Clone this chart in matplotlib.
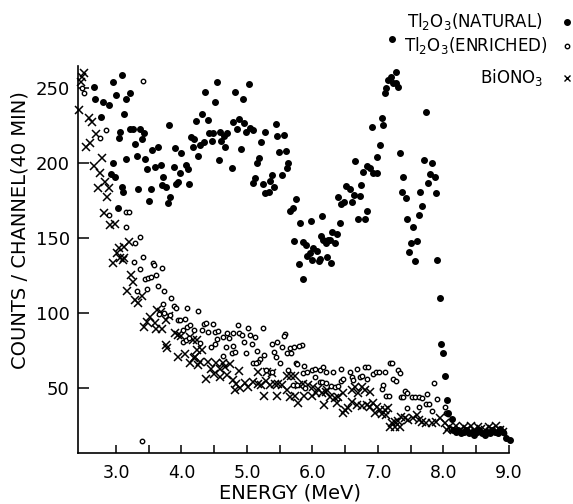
import matplotlib
matplotlib.use("Agg")
import matplotlib.pyplot as plt
from matplotlib.lines import Line2D

plt.rcParams['font.family'] = ['DejaVu Sans']
plt.rcParams['mathtext.default'] = 'regular'

# ---- Tl2O3 (natural) : filled dots ----
nat_e = [2.66, 2.68, 2.77, 2.80, 2.90, 2.93, 2.95, 2.96, 2.99, 3.00, 3.03, 3.04, 3.06, 3.09, 3.09,
         3.11, 3.13, 3.15, 3.16, 3.21, 3.22, 3.26, 3.29, 3.32, 3.34, 3.37, 3.39, 3.43, 3.44, 3.47,
         3.50, 3.53, 3.55, 3.59, 3.64, 3.68, 3.70, 3.72, 3.77, 3.80, 3.81, 3.82, 3.88, 3.90, 3.92,
         3.95, 3.98, 4.00, 4.07, 4.10, 4.12, 4.14, 4.17, 4.19, 4.22, 4.26, 4.29, 4.31, 4.34, 4.36,
         4.40, 4.42, 4.46, 4.48, 4.51, 4.55, 4.57, 4.59, 4.61, 4.65, 4.67, 4.70, 4.77, 4.79, 4.82,
         4.85, 4.88, 4.91, 4.94, 4.96, 4.98, 5.03, 5.05, 5.09, 5.10, 5.13, 5.15, 5.19, 5.21, 5.24,
         5.27, 5.27, 5.34, 5.35, 5.38, 5.41, 5.44, 5.46, 5.49, 5.53, 5.56, 5.59, 5.61, 5.63, 5.66,
         5.71, 5.72, 5.75, 5.79, 5.81, 5.85, 5.86, 5.90, 5.92, 5.96, 5.98, 6.00, 6.01, 6.07, 6.10,
         6.11, 6.13, 6.15, 6.16, 6.21, 6.23, 6.24, 6.27, 6.29, 6.30, 6.34, 6.37, 6.39, 6.42, 6.44,
         6.48, 6.51, 6.58, 6.60, 6.63, 6.65, 6.69, 6.72, 6.74, 6.78, 6.81, 6.83, 6.84, 6.88, 6.91,
         6.93, 6.99, 6.99, 7.03, 7.06, 7.08, 7.11, 7.13, 7.15, 7.20, 7.22, 7.23, 7.27, 7.28, 7.31,
         7.34, 7.37, 7.39, 7.43, 7.45, 7.48, 7.51, 7.54, 7.56, 7.60, 7.62, 7.64, 7.68, 7.70, 7.74,
         7.77, 7.79, 7.82, 7.87, 7.89, 7.91, 7.95, 7.96, 8.00, 8.02, 8.05, 8.07, 8.13,
         8.15, 8.19, 8.23, 8.27, 8.31, 8.35, 8.39, 8.43, 8.47, 8.51, 8.55, 8.59, 8.63, 8.67, 8.71,
         8.75, 8.79, 8.83, 8.87, 8.91, 8.96, 9.02]
nat_c = [250.9, 242.7, 230.5, 241.0, 238.9, 193.0, 253.8, 200.0, 191.0, 245.6, 170.0, 216.7, 221.0, 258.7, 184.2,
         181.0, 233.0, 242.7, 202.5, 246.4, 222.5, 222.5, 212.7, 205.0, 183.0, 222.5, 215.8, 219.8, 203.0, 195.8,
         174.7, 183.0, 209.0, 197.6, 211.0, 198.4, 185.3, 191.0, 184.2, 173.5, 225.5, 177.5, 197.6, 210.0, 186.0,
         187.3, 193.6, 206.5, 199.0, 196.2, 186.0, 217.5, 210.5, 216.0, 228.0, 204.7, 211.8, 232.4, 214.2, 247.3,
         228.9, 220.2, 214.9, 220.2, 240.4, 253.8, 202.0, 221.0, 214.9, 218.0, 210.5, 220.2, 196.5, 227.5, 247.1,
         222.9, 229.3, 209.1, 242.7, 226.4, 221.0, 253.0, 223.3, 186.9, 222.2, 189.8, 200.2, 203.3, 214.2, 185.8,
         221.0, 180.2, 180.7, 188.0, 192.0, 183.8, 226.0, 217.8, 207.3, 191.8, 218.4, 207.8, 196.9, 199.8, 168.0,
         170.2, 148.0, 175.8, 133.0, 160.2, 122.7, 147.3, 145.1, 138.0, 140.2, 161.3, 135.3, 143.1, 141.5, 134.4,
         135.8, 151.5, 164.7, 149.0, 146.9, 137.1, 148.5, 148.7, 133.5, 154.0, 146.4, 152.9, 177.3, 159.8, 172.7,
         173.8, 184.5, 182.7, 174.0, 178.9, 201.3, 162.9, 178.2, 185.1, 193.8, 162.5, 197.8, 168.2, 196.5, 224.0,
         193.6, 193.6, 204.2, 211.8, 229.8, 225.3, 246.5, 249.8, 255.3, 257.1, 282.7, 253.1, 260.5, 253.1, 250.5,
         206.9, 180.7, 190.7, 176.7, 162.7, 140.4, 146.9, 157.1, 134.7, 148.2, 165.5, 180.5, 171.1, 202.2, 234.0,
         186.7, 192.9, 200.2, 190.7, 179.8, 135.3, 109.8, 79.1, 73.1, 58.0, 42.0, 33.5, 29.3,
         22, 21, 22, 20, 21, 22, 20, 21, 19, 21, 22, 20, 19, 21, 20,
         22, 21, 20, 23, 21, 16.5, 15.3]

# ---- Tl2O3 (enriched) : small open circles ----
enr_e = [2.48, 2.51, 2.75, 2.85, 2.90, 3.16, 3.20, 3.16, 3.29, 3.37, 3.41, 3.41, 3.27, 3.56, 3.58,
         3.36, 3.70, 3.45, 3.49, 3.53, 3.61, 3.64, 3.32, 3.47, 3.74, 3.84, 3.72, 3.89, 3.92, 4.09,
         4.25, 3.66, 3.74, 3.82, 3.94, 3.98, 4.05, 4.08, 4.19, 4.03, 4.02, 4.07, 4.12, 4.13, 4.34,
         4.38, 4.48, 4.31, 4.41, 4.51, 4.56, 4.86, 5.02, 5.25, 4.64, 4.70, 4.73, 4.78, 4.88, 4.92,
         5.05, 5.12, 5.58, 4.55, 4.28, 4.95, 5.07, 5.38, 5.46, 5.84, 4.45, 4.51, 4.68, 4.78, 5.54,
         4.77, 4.82, 4.98, 5.15, 5.41, 5.61, 5.67, 5.26, 4.63, 5.20, 5.17, 5.44, 5.10, 5.14, 5.50,
         5.75, 5.77, 5.87, 5.29, 5.38, 5.63, 5.86, 5.91, 5.99, 6.04, 6.11, 6.16, 6.21, 6.04, 6.11,
         5.71, 5.76, 5.89, 5.65, 5.72, 5.80, 5.56, 6.32, 6.44, 6.57, 6.68, 6.80, 6.85, 6.93, 6.97,
         7.02, 7.11, 7.19, 7.22, 7.31, 7.34, 6.14, 6.21, 6.29, 6.34, 6.39, 6.43, 6.47, 6.60, 6.62,
         6.73, 6.75, 6.83, 7.06, 7.08, 7.12, 7.17, 7.23, 7.28, 7.36, 7.39, 7.41, 7.45, 7.52, 7.56,
         7.62, 7.67, 7.75, 7.73, 7.78, 7.85, 7.90, 7.45, 7.62, 7.82, 8.02, 8.04, 8.07,
         8.12, 8.20, 8.28, 8.36, 8.44, 8.52, 8.60, 8.68, 8.76, 8.84, 8.92, 3.39]
enr_c = [250.0, 247.0, 216.4, 222.0, 165.3, 167.5, 167.5, 157.5, 146.9, 150.9, 255.0, 137.6, 133.8, 133.6, 132.2,
         129.1, 129.8, 122.9, 123.1, 124.2, 125.1, 118.0, 114.9, 115.8, 114.4, 110.2, 106.0, 104.7, 103.1, 103.1,
         101.6, 99.5, 100.2, 98.5, 95.3, 95.3, 95.8, 90.9, 88.7, 88.7, 80.9, 82.0, 83.1, 92.2, 92.4,
         93.1, 92.4, 88.9, 87.1, 87.6, 88.2, 91.8, 90.2, 89.8, 84.2, 86.5, 83.6, 86.9, 86.5, 85.3,
         85.3, 84.2, 86.0, 82.4, 80.2, 80.5, 79.3, 79.3, 80.5, 78.7, 77.6, 79.3, 77.1, 78.0, 77.6,
         73.6, 74.0, 73.6, 74.5, 74.2, 73.6, 73.1, 72.0, 71.3, 69.1, 67.5, 70.9, 66.5, 66.5, 66.9,
         66.9, 66.0, 64.9, 62.0, 60.9, 62.0, 59.8, 60.5, 62.0, 62.7, 62.0, 64.2, 60.9, 57.5, 54.2,
         52.0, 52.0, 49.8, 77.0, 77.5, 78.0, 85.0, 60.9, 62.7, 60.5, 62.7, 63.8, 63.8, 59.1, 60.5,
         60.5, 60.5, 66.9, 66.9, 62.0, 60.2, 54.2, 53.1, 51.3, 50.5, 51.3, 54.9, 55.8, 57.1, 55.3,
         57.1, 58.0, 55.8, 49.1, 52.0, 44.7, 44.7, 55.8, 54.9, 44.2, 43.8, 48.2, 46.4, 44.2, 44.2,
         44.2, 43.1, 45.8, 39.3, 39.3, 53.6, 42.4, 36.5, 37.1, 34.9, 37.1, 33.1, 32.7,
         23, 22, 21, 22, 20, 21, 20, 21, 22, 21, 20, 14.9]

# ---- BiONO3 : crosses ----
bio_e = [2.44, 2.48, 2.51, 2.47, 2.54, 2.59, 2.61, 2.64, 2.66, 2.70, 2.73, 2.76, 2.78, 2.81, 2.83,
         2.86, 2.90, 2.91, 2.95, 2.98, 3.01, 3.04, 3.06, 3.11, 3.12, 3.13, 3.17, 3.20, 3.23, 3.26,
         3.29, 3.34, 3.39, 3.43, 3.47, 3.52, 3.60, 3.61, 3.62, 3.68, 3.70, 3.77, 3.77, 3.78, 3.81,
         3.90, 3.95, 3.95, 4.00, 4.05, 4.13, 4.13, 4.18, 4.19, 4.21, 4.23, 4.24, 4.26, 4.28, 4.32,
         4.37, 4.41, 4.45, 4.49, 4.53, 4.59, 4.59, 4.64, 4.66, 4.69, 4.74, 4.79, 4.82, 4.84, 4.88,
         4.89, 4.97, 5.02, 5.10, 5.17, 5.17, 5.22, 5.26, 5.29, 5.30, 5.35, 5.38, 5.43, 5.46, 5.48,
         5.53, 5.61, 5.61, 5.65, 5.68, 5.73, 5.73, 5.78, 5.80, 5.86, 5.87, 5.94, 6.00, 6.01, 6.06,
         6.09, 6.14, 6.18, 6.21, 6.22, 6.27, 6.34, 6.37, 6.39, 6.47, 6.47, 6.50, 6.55, 6.60, 6.60,
         6.65, 6.68, 6.70, 6.75, 6.75, 6.80, 6.83, 6.88, 6.88, 6.93, 6.95, 6.99, 7.03, 7.06, 7.11,
         7.13, 7.16, 7.18, 7.21, 7.26, 7.26, 7.31, 7.34, 7.36, 7.41, 7.46, 7.54, 7.59, 7.62, 7.67,
         7.74, 7.82, 7.89, 7.95, 8.02, 8.05,
         8.09, 8.14, 8.20, 8.25, 8.31, 8.36, 8.42, 8.47, 8.53, 8.58, 8.64, 8.69, 8.75, 8.80, 8.86, 8.91]
bio_c = [235.3, 257.1, 260.2, 254.0, 210.5, 229.8, 213.1, 227.5, 198.0, 219.3, 183.1, 193.1, 203.3, 166.4, 187.3,
         177.1, 183.1, 158.7, 133.5, 159.1, 139.8, 143.1, 136.5, 135.3, 136.5, 144.2, 114.9, 147.5, 125.3, 120.9,
         108.7, 106.5, 111.3, 90.9, 94.2, 97.1, 93.6, 89.6, 102.0, 100.9, 89.1, 95.3, 78.7, 76.4, 98.0,
         86.9, 85.3, 70.9, 84.7, 72.7, 83.8, 66.9, 82.0, 69.8, 70.4, 75.3, 82.0, 65.3, 67.5, 75.3,
         55.8, 67.5, 62.5, 59.3, 66.9, 62.5, 57.1, 66.9, 63.8, 58.7, 66.0, 55.3, 48.7, 52.7, 61.6,
         49.8, 53.1, 50.9, 54.2, 52.7, 60.9, 52.0, 44.7, 54.9, 60.9, 52.0, 60.2, 52.7, 44.7, 52.7,
         52.0, 58.0, 48.7, 43.8, 58.0, 58.0, 44.7, 39.8, 52.0, 52.7, 44.7, 52.0, 44.7, 50.9, 46.9,
         49.1, 46.4, 38.7, 47.5, 48.7, 44.2, 43.1, 39.8, 44.2, 46.4, 33.1, 35.3, 36.5, 48.7, 40.9,
         50.9, 38.7, 46.4, 50.5, 38.0, 48.7, 38.7, 47.5, 37.6, 39.8, 33.1, 37.1, 35.3, 32.7, 35.3,
         32.0, 36.5, 24.2, 26.4, 27.5, 24.2, 28.2, 23.8, 30.9, 29.8, 28.7, 29.8, 32.0, 28.7, 27.5,
         26.9, 26.4, 27.5, 29.8, 26.9, 22.0,
         24, 23, 25, 22, 24, 23, 25, 22, 24, 23, 22, 24, 23, 25, 22, 21]

x_ticks = [3.0, 4.0, 5.0, 6.0, 7.0, 8.0, 9.0]
x_tick_labels = ['3.0', '4.0', '5.0', '6.0', '7.0', '8.0', '9.0']
x_minor = [3.5, 4.5, 5.5, 6.5, 7.5, 8.5]
y_ticks = [50, 100, 150, 200, 250]
legend_labels = ['Tl$_2$O$_3$(NATURAL)', 'Tl$_2$O$_3$(ENRICHED)', 'BiONO$_3$']

fig = plt.figure(figsize=(5.73, 5.04), dpi=100)
ax = fig.add_axes([78/573, 51/504, 442/573, 423/504])

ax.plot(bio_e, bio_c, linestyle='none', marker='x', color='black', markersize=5.8, markeredgewidth=1.1, clip_on=False)
ax.plot(enr_e, enr_c, linestyle='none', marker='o', markerfacecolor='white', markeredgecolor='black',
        markersize=3.2, markeredgewidth=1.0, clip_on=False)
ax.plot(nat_e, nat_c, linestyle='none', marker='o', color='black', markersize=4.0, clip_on=False)

ax.set_xlim(2.42, 9.17)
ax.set_ylim(6.7, 288.7)
for s in ['top', 'right']:
    ax.spines[s].set_visible(False)
ax.spines['left'].set_bounds(6.7, 265)
ax.spines['bottom'].set_bounds(2.42, 9.0)
for s in ['left', 'bottom']:
    ax.spines[s].set_linewidth(1.2)

ax.set_xticks(x_ticks)
ax.set_xticklabels(x_tick_labels, fontsize=12.5)
ax.set_xticks(x_minor, minor=True)
ax.set_yticks(y_ticks)
ax.set_yticklabels([str(v) for v in y_ticks], fontsize=13)
ax.tick_params(axis='x', which='both', direction='in', length=6, width=1.1, pad=8)
ax.tick_params(axis='y', direction='in', length=8, width=1.1, pad=6)

fig.text(20/573, 1 - 230/504, 'COUNTS / CHANNEL(40 MIN)', rotation=90, ha='center', va='center', fontsize=14)
fig.text(290/573, 1 - 493/504, 'ENERGY (MeV)', ha='center', va='center', fontsize=14)

# legend (text right-aligned, marker on the right)
rows_y = [1 - 22/504, 1 - 46/504, 1 - 78/504]
text_right = [543/573, 548/573, 543/573]
styles = [dict(marker='o', color='black', markersize=4.0, linestyle='none'),
          dict(marker='o', markerfacecolor='white', markeredgecolor='black', markersize=3.2,
               markeredgewidth=1.0, linestyle='none'),
          dict(marker='x', color='black', markersize=4.5, markeredgewidth=1.0, linestyle='none')]
for lab, yy, xr, st in zip(legend_labels, rows_y, text_right, styles):
    fig.text(xr, yy, lab, ha='right', va='center', fontsize=12)
    fig.add_artist(Line2D([567/573], [yy], transform=fig.transFigure, **st))

fig.savefig('out.png', dpi=100)
